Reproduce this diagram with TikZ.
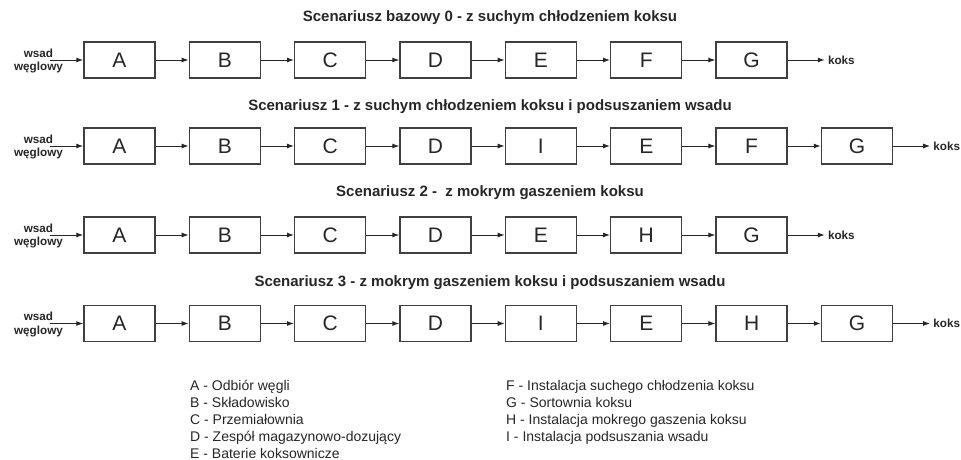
\documentclass[tikz,border=0pt]{standalone}
\usepackage{fontspec}
\setmainfont{Liberation Sans}
\usetikzlibrary{arrows.meta}
\definecolor{ink}{HTML}{262626}
\definecolor{frame}{HTML}{404040}
\tikzset{
  stage/.style={draw=frame, line width=1.4pt, minimum width=71pt, minimum height=36pt,
    inner sep=0pt, font=\fontsize{21}{21}\selectfont, text=ink},
  flow/.style={draw=ink, line width=1pt, -{Latex[length=7pt,width=5pt]}},
  heading/.style={font=\fontsize{15}{15}\selectfont\bfseries, text=ink, inner sep=0pt},
  io/.style={font=\fontsize{11.7}{13.5}\selectfont\bfseries, text=ink, inner sep=0pt},
  legend/.style={font=\fontsize{14}{14}\selectfont, text=ink, anchor=base west, inner sep=0pt},
}
\begin{document}
\begin{tikzpicture}[x=1pt,y=-1pt]
\useasboundingbox (0,0) rectangle (961,459);

% scenario headings
\node[heading] (t0) at (490,18)  {Scenariusz bazowy 0 - z suchym chłodzeniem koksu};
\node[heading] (t1) at (490,107) {Scenariusz 1 - z suchym chłodzeniem koksu i podsuszaniem wsadu};
\node[heading] (t2) at (490,193) {Scenariusz 2 - \ z mokrym gaszeniem koksu};
\node[heading] (t3) at (490,283) {Scenariusz 3 - z mokrym gaszeniem koksu i podsuszaniem wsadu};

% process chains
\foreach \r/\y/\n/\letters in {0/60/7/{A,B,C,D,E,F,G},
                                1/146/8/{A,B,C,D,I,E,F,G},
                                2/235/7/{A,B,C,D,E,H,G},
                                3/323.5/8/{A,B,C,D,I,E,H,G}} {
  \node[io, align=center] (in\r) at (38.5,\y+1) {wsad\\węglowy};
  \coordinate (src\r) at (50,\y);
  \foreach \l [count=\i] in \letters {
    \node[stage] (s\r-\i) at ({119.5+(\i-1)*105.35},\y) {\l};
  }
  \draw[flow] (src\r) -- (s\r-1);
  \foreach \i [evaluate=\i as \j using int(\i-1)] in {2,...,\n} {
    \draw[flow] (s\r-\j) -- (s\r-\i);
  }
  \coordinate (dst\r) at ([xshift=37pt]s\r-\n.east);
  \draw[flow] (s\r-\n) -- (dst\r);
  \node[io, anchor=west] (out\r) at ([xshift=3pt]dst\r) {koks};
}

% legend (baselines)
\node[legend] (lA) at (190,390) {A - Odbiór węgli};
\node[legend] (lB) at (190,407) {B - Składowisko};
\node[legend] (lC) at (190,424) {C - Przemiałownia};
\node[legend] (lD) at (190,441) {D - Zespół magazynowo-dozujący};
\node[legend] (lE) at (190,458) {E - Baterie koksownicze};
\node[legend] (lF) at (506,390) {F - Instalacja suchego chłodzenia koksu};
\node[legend] (lG) at (506,407) {G - Sortownia koksu};
\node[legend] (lH) at (506,424) {H - Instalacja mokrego gaszenia koksu};
\node[legend] (lI) at (506,441) {I - Instalacja podsuszania wsadu};
\end{tikzpicture}
\end{document}
